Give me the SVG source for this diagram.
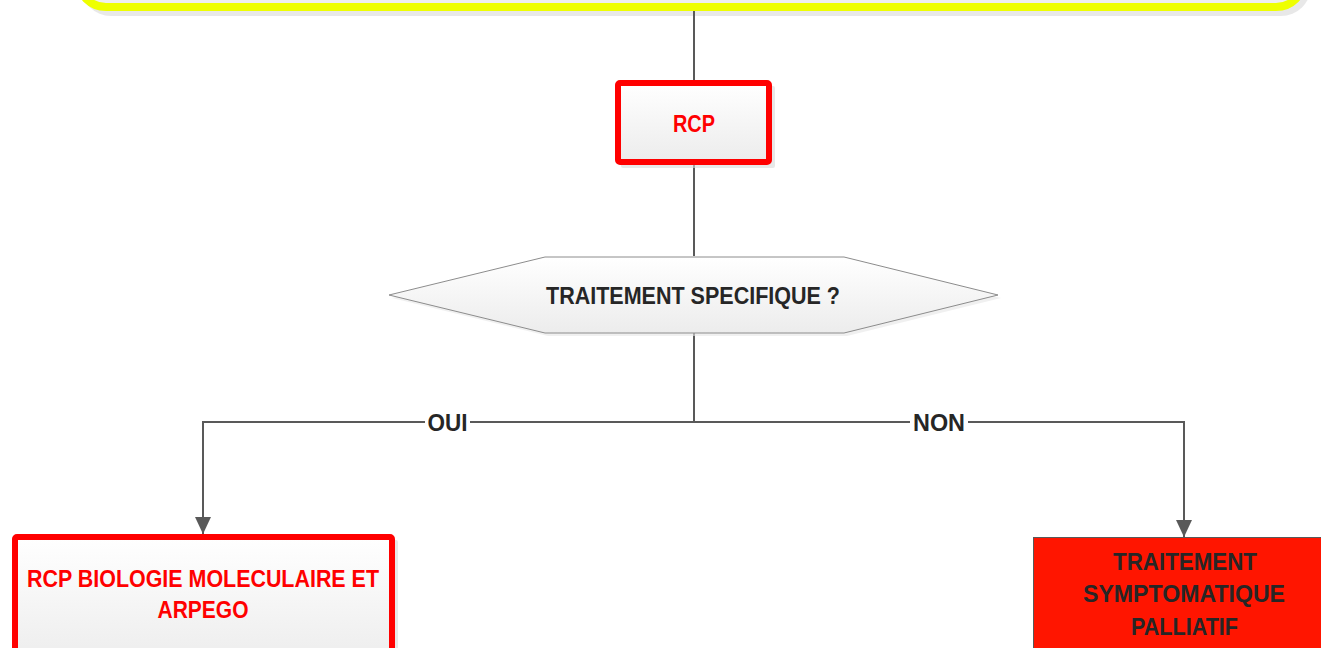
<svg xmlns="http://www.w3.org/2000/svg" width="1321" height="648" viewBox="0 0 1321 648">
<defs>
<linearGradient id="g" x1="0" y1="0" x2="0" y2="1"><stop offset="0" stop-color="#ffffff"/><stop offset="1" stop-color="#ececec"/></linearGradient>
<marker id="arr" markerUnits="userSpaceOnUse" markerWidth="18" markerHeight="20" refX="17" refY="8" orient="auto"><path d="M0,0 L17,8 L0,16 Z" fill="#595959"/></marker>
</defs>
<style>
.t{font-family:"Liberation Sans",Arial,sans-serif;font-weight:bold;font-size:24px;text-anchor:middle}
.red{fill:#ff0000}
.dark{fill:#262626}
.ln{fill:none;stroke:#595959;stroke-width:2}
.sh{fill:#d9d9d9;opacity:0.6}
</style>
<g id="top">
<rect class="sh" x="81" y="-58" width="1230" height="74" rx="30"/>
<rect x="78" y="-58" width="1226" height="65" rx="28" fill="#eeeeee" stroke="#eeff00" stroke-width="8"/>
</g>
<g id="connectors">
<line class="ln" x1="694" y1="11" x2="694" y2="80"/>
<line class="ln" x1="694" y1="165" x2="694" y2="256"/>
<line class="ln" x1="694" y1="333" x2="694" y2="422"/>
<path class="ln" d="M425,422 H203 V534" marker-end="url(#arr)"/>
<line class="ln" x1="470" y1="422" x2="910" y2="422"/>
<path class="ln" d="M968,422 H1184 V537" marker-end="url(#arr)"/>
<text class="t dark" x="447.5" y="431" textLength="40" lengthAdjust="spacingAndGlyphs">OUI</text>
<text class="t dark" x="939" y="431" textLength="52" lengthAdjust="spacingAndGlyphs">NON</text>
</g>
<g id="rcp">
<rect class="sh" x="621" y="86" width="154" height="82" rx="2"/>
<rect x="618" y="83" width="151" height="79" rx="2" fill="url(#g)" stroke="#ff0000" stroke-width="6"/>
<text class="t red" x="694" y="132" textLength="42" lengthAdjust="spacingAndGlyphs">RCP</text>
</g>
<g id="decision">
<polygon points="392,298 548,260 847,260 1001,298 847,336 548,336" fill="#e6e6e6" opacity="0.6"/>
<polygon points="389,295 545,257 844,257 998,295 844,333 545,333" fill="url(#g)" stroke="#8c8c8c" stroke-width="1"/>
<text class="t dark" x="693" y="304" textLength="294" lengthAdjust="spacingAndGlyphs">TRAITEMENT SPECIFIQUE ?</text>
</g>
<g id="biologie">
<rect class="sh" x="18" y="540" width="380" height="130" rx="2"/>
<rect x="15" y="537" width="377" height="130" rx="2" fill="url(#g)" stroke="#ff0000" stroke-width="6"/>
<text class="t red" x="203" y="587" textLength="352" lengthAdjust="spacingAndGlyphs">RCP BIOLOGIE MOLECULAIRE ET</text>
<text class="t red" x="203" y="618" textLength="91" lengthAdjust="spacingAndGlyphs">ARPEGO</text>
</g>
<g id="symptomatique">
<rect x="1033.5" y="537.5" width="300" height="130" fill="#ff1500" stroke="#595959" stroke-width="1"/>
<text class="t dark" x="1185" y="570" textLength="144" lengthAdjust="spacingAndGlyphs">TRAITEMENT</text>
<text class="t dark" x="1184" y="602" textLength="202" lengthAdjust="spacingAndGlyphs">SYMPTOMATIQUE</text>
<text class="t dark" x="1184.5" y="635" textLength="107" lengthAdjust="spacingAndGlyphs">PALLIATIF</text>
</g>
</svg>
